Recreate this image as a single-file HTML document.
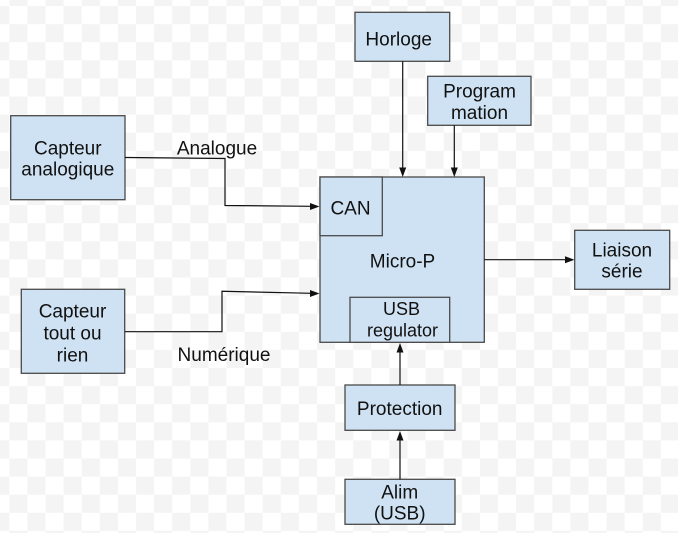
<!DOCTYPE html>
<html><head><meta charset="utf-8"><style>
html,body{margin:0;padding:0;background:#fff;}
svg{display:block;}
text{font-family:"Liberation Sans",Arial,sans-serif;font-size:19px;fill:#111;text-anchor:middle;}
</style></head><body>
<svg width="678" height="533" viewBox="0 0 678 533" xmlns="http://www.w3.org/2000/svg">
<defs>
<pattern id="chk" patternUnits="userSpaceOnUse" x="9.3" y="6" width="36.2" height="36.2">
<rect width="36.2" height="36.2" fill="#ffffff"/>
<rect x="18.1" y="0" width="18.1" height="18.1" fill="#f4f4f4"/>
<rect x="0" y="18.1" width="18.1" height="18.1" fill="#f4f4f4"/>
</pattern>
</defs>
<rect width="678" height="533" fill="url(#chk)"/>

<g fill="#cfe2f3" stroke="#4a4a4a" stroke-width="1.3">
<rect x="10.7" y="115.7" width="114.3" height="84"/>
<rect x="21.3" y="289.3" width="103.4" height="84"/>
<rect x="355" y="12.3" width="94.7" height="49"/>
<rect x="427.7" y="76.3" width="103.3" height="49"/>
<rect x="320" y="177" width="164.3" height="165.3"/>
<rect x="320" y="177" width="62.3" height="58.7"/>
<rect x="350" y="297.3" width="99.7" height="45"/>
<rect x="574.7" y="230.3" width="95" height="59"/>
<rect x="345" y="385" width="110" height="45.3"/>
<rect x="345" y="479.3" width="110" height="45"/>
</g>

<g fill="none" stroke="#111" stroke-width="1.2">
<polyline points="125,157.5 225,158.5 225,205.5 312,206.3"/>
<polyline points="125,331.7 222,331.7 222,291.3 312,293.3"/>
<line x1="402.7" y1="61.3" x2="402.7" y2="169"/>
<line x1="454.3" y1="125.3" x2="454.3" y2="169"/>
<line x1="484.3" y1="259.7" x2="566" y2="259.7"/>
<line x1="400" y1="385" x2="400" y2="350"/>
<line x1="400" y1="479.3" x2="400" y2="438"/>
</g>
<g fill="#111">
<polygon points="319.5,206.5 310,203 310,210"/>
<polygon points="319.5,293.5 310,290 310,297"/>
<polygon points="402.7,177 399.2,167.5 406.2,167.5"/>
<polygon points="454.3,177 450.8,167.5 457.8,167.5"/>
<polygon points="574.5,259.7 565,256.2 565,263.2"/>
<polygon points="400,343 396.5,352.5 403.5,352.5"/>
<polygon points="400,431 396.5,440.5 403.5,440.5"/>
</g>

<text x="67.8" y="154.3">Capteur</text>
<text x="67.8" y="175.7">analogique</text>
<text x="217" y="154.3">Analogue</text>
<text x="398.7" y="45.5">Horloge</text>
<text x="479.5" y="97.3">Program</text>
<text x="479.5" y="119">mation</text>
<text x="350.5" y="214.3">CAN</text>
<text x="402.5" y="267.3">Micro-P</text>
<text x="622" y="256.7">Liaison</text>
<text x="622" y="277.7">série</text>
<text x="72.5" y="317.7">Capteur</text>
<text x="72.5" y="339.3">tout ou</text>
<text x="72.5" y="361.5">rien</text>
<text x="224" y="361">Numérique</text>
<text x="401.5" y="315" style="font-size:18px">USB</text>
<text x="402.5" y="336.7" style="font-size:18px">regulator</text>
<text x="399.7" y="415">Protection</text>
<text x="399.7" y="498.3">Alim</text>
<text x="399.7" y="519.5">(USB)</text>
</svg>
</body></html>
